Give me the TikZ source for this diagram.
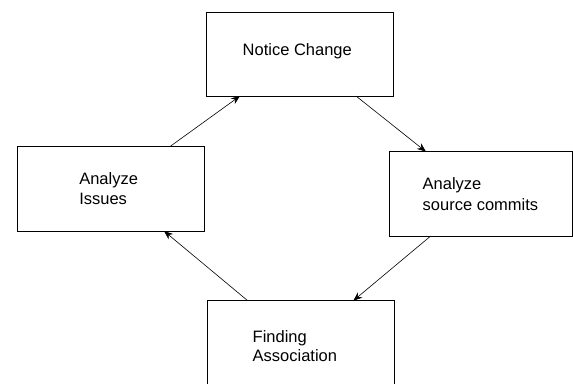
\documentclass[tikz,border=0pt]{standalone}
\usepackage{fontspec}
\setmainfont{Liberation Sans}
\usetikzlibrary{arrows.meta}
\begin{document}
\begin{tikzpicture}[x=1pt,y=-1pt,
  box/.style={draw=black,line width=1pt,inner sep=0pt,outer sep=0pt,rectangle},
  lbl/.style={inner sep=0pt,outer sep=0pt,anchor=base west,font=\fontsize{16.5}{20}\selectfont},
  conn/.style={draw=black,line width=0.6pt,-{Stealth[length=9pt,width=7pt,inset=3pt]}}]
\useasboundingbox (0,0) rectangle (573,383);
\clip (0,0) rectangle (573,383);
\fill[white] (0,0) rectangle (573,383);
% boxes
\node[box,minimum width=187pt,minimum height=84pt] (b1) at (299.5,54) {};
\node[box,minimum width=187pt,minimum height=85pt] (b2) at (110.5,188.5) {};
\node[box,minimum width=183.5pt,minimum height=84.3pt] (b3) at (480.75,193.85) {};
\node[box,minimum width=186.7pt,minimum height=84pt] (b4) at (300.65,342.7) {};
% texts
\node[lbl] (t1) at (242.7,55) {Notice Change};
\node[lbl] (t2a) at (79.3,184) {Analyze};
\node[lbl] (t2b) at (79.3,204.3) {Issues};
\node[lbl] (t3a) at (422.7,189) {Analyze};
\node[lbl] (t3b) at (422.7,210) {source commits};
\node[lbl] (t4a) at (252.7,342.3) {Finding};
\node[lbl] (t4b) at (252.7,361.7) {Association};
% connectors
\draw[conn] ([xshift=153.7pt]b2.north west) -- ([xshift=34pt]b1.south west);
\draw[conn] ([xshift=150pt]b1.south west) -- ([xshift=37pt]b3.north west);
\draw[conn] ([xshift=41.7pt]b3.south west) -- ([xshift=146pt]b4.north west);
\draw[conn] ([xshift=40.4pt]b4.north west) -- ([xshift=147pt]b2.south west);
\end{tikzpicture}
\end{document}
